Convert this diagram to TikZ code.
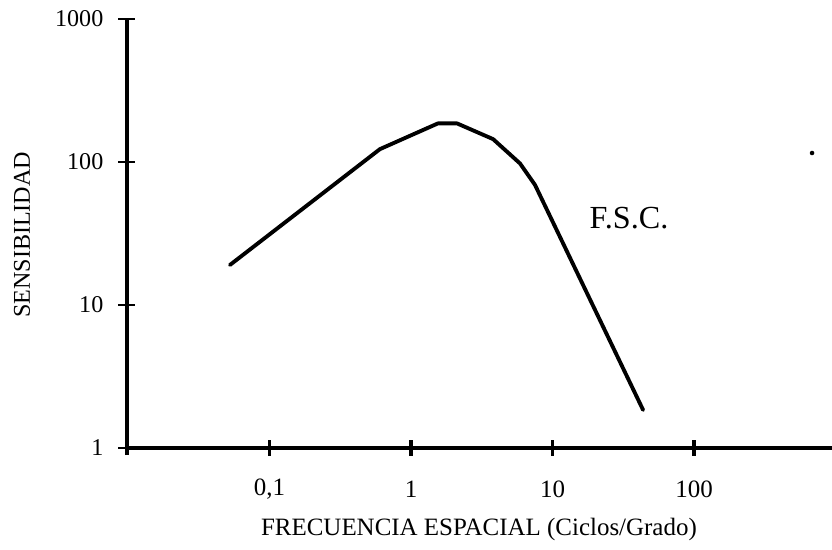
\documentclass[tikz,border=0pt]{standalone}
\usepackage{fontspec}
\setmainfont{Liberation Serif}
\usetikzlibrary{positioning}
\tikzset{
    axisline/.style={
           line width=2.4pt,
           },
    curveline/.style={
           line width=2.2pt,
           line join=round,
           line cap=round,
           },
    ticklabel/.style={
           font=\fontsize{13.7}{16}\selectfont,
           inner sep=1pt,
           },
    xlabel/.style={
           font=\fontsize{14.2}{17}\selectfont,
           inner sep=1pt,
           },
}

\begin{document}
\begin{tikzpicture}[x=2.83cm, y=2.86cm]

 \useasboundingbox (-2.905,-0.713) rectangle (2.975,3.133);

 % axes
 \coordinate (ORIGIN) at (-2.007,0);
 \coordinate (XEND) at (2.975,0);
 \coordinate (YEND) at (-2.007,3);
 \coordinate (YBOT) at (-2.007,-0.05);
 \draw[axisline] (YBOT) -- (YEND);
 \draw[axisline] (ORIGIN) -- (XEND);

 % ticks on the y axis
 \foreach \e/\txt in {0/1, 1/10, 2/100, 3/1000}{
  \draw[line width=1.6pt] (-2.07,\e) -- (-1.95,\e);
  \node[ticklabel, anchor=east] (YLAB_\e) at (-2.16,\e) {\txt};
 }

 % ticks on the x axis
 \foreach \e/\txt in {-1/{0,1}, 0/1, 1/10, 2/100}{
  \draw[line width=1.8pt] (\e,-0.055) -- (\e,0.055);
  \node[xlabel] (XLAB_\e) at (\e,-0.29) {\txt};
 }

 \node[xlabel] (XTITLE) at (0.48,-0.57)
 {%
  FRECUENCIA ESPACIAL (Ciclos/Grado)
 };

 \node[ticklabel, rotate=90] (YTITLE) at (-2.75,1.49)
 {%
  SENSIBILIDAD
 };

 % curve
 \coordinate (P1) at (-1.28,1.28);
 \coordinate (P2) at (-0.22,2.09);
 \coordinate (P3) at (0.19,2.27);
 \coordinate (P4) at (0.325,2.27);
 \coordinate (P5) at (0.58,2.16);
 \coordinate (P6) at (0.77,1.99);
 \coordinate (P7) at (0.876,1.84);
 \coordinate (P8) at (1.64,0.266);
 \draw[curveline] (P1) -- (P2) -- (P3) -- (P4) -- (P5) -- (P6) -- (P7) -- (P8);

 \node[font=\fontsize{18.3}{21}\selectfont] (FSC) at (1.54,1.61)
 {%
  F.S.C.
 };

 \fill (2.834,2.063) circle (1.3pt);

\end{tikzpicture}
\end{document}
